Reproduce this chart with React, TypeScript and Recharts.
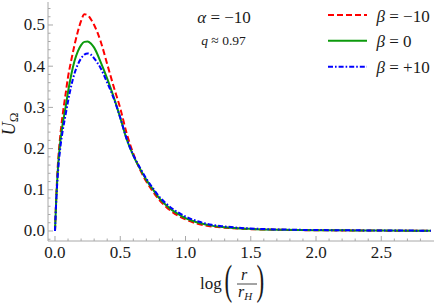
import React from 'react';
import { LineChart, Line, XAxis, YAxis } from 'recharts';

// ---- data ----
const xValues = [0, 0.01, 0.02, 0.04, 0.06, 0.08, 0.1, 0.125, 0.15, 0.175, 0.2, 0.225, 0.25, 0.275, 0.3, 0.35, 0.4, 0.45, 0.5, 0.55, 0.6, 0.65, 0.7, 0.75, 0.8, 0.85, 0.9, 0.95, 1.0, 1.1, 1.2, 1.3, 1.4, 1.5, 1.75, 2.0, 2.25, 2.5, 2.75, 2.88];
const redValues = [0, 0.085, 0.15, 0.23, 0.285, 0.33, 0.374, 0.415, 0.452, 0.484, 0.51, 0.526, 0.524, 0.514, 0.5, 0.46, 0.405, 0.35, 0.298, 0.236, 0.188, 0.15, 0.12, 0.096, 0.075, 0.059, 0.046, 0.036, 0.028, 0.017, 0.011, 0.008, 0.006, 0.0045, 0.0028, 0.0018, 0.0013, 0.0009, 0.0006, 0.0005];
const greenValues = [0, 0.08, 0.14, 0.215, 0.262, 0.298, 0.338, 0.38, 0.413, 0.436, 0.451, 0.459, 0.46, 0.455, 0.445, 0.41, 0.37, 0.325, 0.275, 0.222, 0.183, 0.152, 0.124, 0.101, 0.079, 0.063, 0.05, 0.04, 0.031, 0.02, 0.013, 0.009, 0.0065, 0.005, 0.003, 0.002, 0.0015, 0.001, 0.0007, 0.0006];
const blueValues = [0, 0.075, 0.13, 0.2, 0.245, 0.28, 0.315, 0.353, 0.383, 0.404, 0.419, 0.428, 0.431, 0.428, 0.419, 0.395, 0.36, 0.322, 0.275, 0.223, 0.184, 0.154, 0.127, 0.104, 0.083, 0.067, 0.054, 0.044, 0.035, 0.023, 0.015, 0.011, 0.008, 0.006, 0.0035, 0.0023, 0.0017, 0.0012, 0.0009, 0.0007];

const xTicks = [0, 0.1, 0.2, 0.3, 0.4, 0.5, 0.6, 0.7, 0.8, 0.9, 1.0, 1.1, 1.2, 1.3, 1.4, 1.5, 1.6, 1.7, 1.8, 1.9, 2.0, 2.1, 2.2, 2.3, 2.4, 2.5, 2.6, 2.7, 2.8];
const yTicks = [-0.02, 0, 0.02, 0.04, 0.06, 0.08, 0.1, 0.12, 0.14, 0.16, 0.18, 0.2, 0.22, 0.24, 0.26, 0.28, 0.3, 0.32, 0.34, 0.36, 0.38, 0.4, 0.42, 0.44, 0.46, 0.48, 0.5, 0.52, 0.54];

const seriesNames = ['β = −10', 'β = 0', 'β = +10'];
const alphaLabel = ['α', ' = −10'];
const qLabel = ['q', ' ≈ 0.97'];

const data = xValues.map((x, i) => ({
  x,
  red: redValues[i],
  green: greenValues[i],
  blue: blueValues[i],
}));

const series = [
  { key: 'red', name: seriesNames[0], color: '#ff0000', dash: '6 3' },
  { key: 'green', name: seriesNames[1], color: '#0c9a0c', dash: undefined as string | undefined },
  { key: 'blue', name: seriesNames[2], color: '#0000ff', dash: '5 2 1.6 2' },
];

const FRAME = '#a8a8a8';
const FONT = 'Liberation Serif, serif';
const TICKFONT = 17;
const INK = '#1a1a1a';
const fontStyle = (size: number, italic = false): React.CSSProperties => ({
  fontFamily: FONT,
  fontSize: size,
  fontStyle: italic ? 'italic' : 'normal',
});

const isMajorX = (v: number) => Math.abs(v * 2 - Math.round(v * 2)) < 1e-6;
const isMajorY = (v: number) => Math.abs(v * 10 - Math.round(v * 10)) < 1e-6;

const BottomTick = (props: any) => {
  const { x, y, payload } = props;
  const v = payload.value as number;
  const major = isMajorX(v);
  return (
    <g>
      <line x1={x} x2={x} y1={y} y2={y - (major ? 5 : 2.5)} stroke={FRAME} />
      {major && (
        <text x={x} y={y + 17} textAnchor="middle" style={fontStyle(TICKFONT)} fill={INK}>
          {v.toFixed(1)}
        </text>
      )}
    </g>
  );
};

const TopTick = (props: any) => {
  const { x, y, payload } = props;
  const major = isMajorX(payload.value);
  return <line x1={x} x2={x} y1={y} y2={y + (major ? 5 : 2.5)} stroke={FRAME} />;
};

const LeftTick = (props: any) => {
  const { x, y, payload } = props;
  const v = payload.value as number;
  const major = isMajorY(v);
  return (
    <g>
      <line x1={x} x2={x + (major ? 5 : 2.5)} y1={y} y2={y} stroke={FRAME} />
      {major && (
        <text x={x - 3} y={y + 5.5} textAnchor="end" style={fontStyle(TICKFONT)} fill={INK}>
          {v.toFixed(1)}
        </text>
      )}
    </g>
  );
};

const RightTick = (props: any) => {
  const { x, y, payload } = props;
  const major = isMajorY(payload.value);
  return <line x1={x} x2={x - (major ? 5 : 2.5)} y1={y} y2={y} stroke={FRAME} />;
};

const X_DOMAIN: [number, number] = [-0.0536, 2.904];
const Y_DOMAIN: [number, number] = [-0.0243, 0.5558];

export default function App() {
  const legendRows = [15, 40.7, 66.7];
  return (
    <div style={{ position: 'absolute', left: 0, top: 0, width: 441, height: 306, background: '#fff' }}>
      <LineChart width={441} height={306} data={data} margin={{ top: 2, right: 7, bottom: 0, left: 0 }}>
        <XAxis
          dataKey="x"
          type="number"
          xAxisId="b"
          orientation="bottom"
          domain={X_DOMAIN}
          ticks={xTicks}
          interval={0}
          allowDataOverflow
          height={65}
          tickSize={0}
          tickMargin={0}
          tickLine={false}
          axisLine={{ stroke: FRAME }}
          tick={<BottomTick />}
        />
        <XAxis
          dataKey="x"
          type="number"
          xAxisId="t"
          orientation="top"
          domain={X_DOMAIN}
          ticks={xTicks}
          interval={0}
          allowDataOverflow
          height={0}
          tickSize={0}
          tickMargin={0}
          tickLine={false}
          axisLine={{ stroke: FRAME }}
          tick={<TopTick />}
        />
        <YAxis
          type="number"
          yAxisId="l"
          orientation="left"
          domain={Y_DOMAIN}
          ticks={yTicks}
          interval={0}
          allowDataOverflow
          width={48}
          tickSize={0}
          tickMargin={0}
          tickLine={false}
          axisLine={{ stroke: FRAME }}
          tick={<LeftTick />}
        />
        <YAxis
          type="number"
          yAxisId="r"
          orientation="right"
          domain={Y_DOMAIN}
          ticks={yTicks}
          interval={0}
          allowDataOverflow
          width={0}
          tickSize={0}
          tickMargin={0}
          tickLine={false}
          axisLine={{ stroke: FRAME }}
          tick={<RightTick />}
        />
        {series.map((s) => (
          <Line
            key={s.key}
            xAxisId="b"
            yAxisId="l"
            dataKey={s.key}
            name={s.name}
            type="monotone"
            stroke={s.color}
            strokeWidth={2}
            strokeDasharray={s.dash}
            dot={false}
            activeDot={false}
            isAnimationActive={false}
          />
        ))}
      </LineChart>
      <svg
        width={441}
        height={306}
        style={{ position: 'absolute', left: 0, top: 0, pointerEvents: 'none' }}
      >
        {/* annotations */}
        <text x={224} y={23} textAnchor="middle" style={fontStyle(17)} fill={INK}>
          <tspan style={fontStyle(17, true)}>{alphaLabel[0]}</tspan>
          <tspan>{alphaLabel[1]}</tspan>
        </text>
        <text x={223.5} y={45} textAnchor="middle" style={fontStyle(13.5)} fill={INK}>
          <tspan style={fontStyle(13.5, true)}>{qLabel[0]}</tspan>
          <tspan>{qLabel[1]}</tspan>
        </text>
        {/* legend */}
        {series.map((s, i) => (
          <g key={s.key}>
            <line
              x1={328}
              x2={367}
              y1={legendRows[i]}
              y2={legendRows[i]}
              stroke={s.color}
              strokeWidth={2}
              strokeDasharray={s.dash}
            />
            <text x={376.5} y={legendRows[i] + 6.5} style={fontStyle(17)} fill={INK}>
              <tspan style={fontStyle(17, true)}>{s.name.slice(0, 1)}</tspan>
              <tspan>{s.name.slice(1)}</tspan>
            </text>
          </g>
        ))}
        {/* y axis label */}
        <text transform="translate(14.5,124) rotate(-90)" textAnchor="middle" style={fontStyle(18)} fill={INK}>
          <tspan style={fontStyle(18, true)}>U</tspan>
          <tspan style={fontStyle(13)} dy={3}>Ω</tspan>
        </text>
        {/* x axis label: log (r / r_H) */}
        <text x={200} y={289} style={fontStyle(17)} fill={INK}>log</text>
        <text transform="translate(224.5,294) scale(0.55,1)" style={fontStyle(42)} fill={INK}>(</text>
        <text x={244} y={280} textAnchor="middle" style={fontStyle(16, true)} fill={INK}>r</text>
        <line x1={237} x2={257} y1={284} y2={284} stroke={INK} strokeWidth={0.8} />
        <text x={238} y={297} style={fontStyle(16, true)} fill={INK}>
          <tspan>r</tspan>
          <tspan style={fontStyle(11, true)} dy={3}>H</tspan>
        </text>
        <text transform="translate(256.5,294) scale(0.55,1)" style={fontStyle(42)} fill={INK}>)</text>
      </svg>
    </div>
  );
}
